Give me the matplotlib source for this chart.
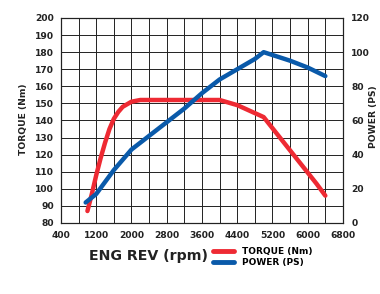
import matplotlib
matplotlib.use("Agg")
import matplotlib.pyplot as plt
from matplotlib.lines import Line2D

# values
torque_rpm = [1000, 1100, 1200, 1300, 1400, 1500, 1600, 1700, 1800, 2000, 2200, 3000, 3600, 4000, 4400, 5000, 5400, 5800, 6200, 6400]
torque_nm = [87, 97, 108, 118, 127, 135, 141, 145, 148, 151, 152, 152, 152, 152, 149, 142, 129, 116, 103, 96]
power_rpm = [960, 1200, 1600, 2000, 2400, 2800, 3200, 3600, 4000, 4400, 4800, 5000, 5600, 6000, 6400]
power_ps = [12, 17, 31, 43, 51, 59, 67, 76, 84, 90, 96, 100, 95, 91, 86]

x_ticks = list(range(400, 6801, 800))
torque_ticks = list(range(80, 201, 10))
power_ticks = list(range(0, 121, 20))

RED = "#ee2a33"
BLUE = "#0a5aaa"
FONT = "DejaVu Sans"
INK = "#222222"

fig = plt.figure(figsize=(3.8, 2.94), dpi=100)
ax = fig.add_axes([0.1605, 0.2415, 0.742, 0.6973])
ax2 = ax.twinx()

ax.set_xlim(400, 6800)
ax.set_ylim(80, 200)
ax2.set_ylim(0, 120)

ax.set_xticks(x_ticks)
ax.set_xticks(range(400, 6801, 400), minor=True)
ax.set_yticks(torque_ticks)
ax2.set_yticks(power_ticks)
ax.grid(True, which="both", color=INK, lw=0.7)
ax.set_axisbelow(True)
ax.tick_params(which="both", length=0)
ax2.tick_params(length=0)
for a in (ax, ax2):
    for s in a.spines.values():
        s.set_color(INK)
        s.set_linewidth(0.8)

tick_kw = dict(fontsize=6.6, fontweight="bold", family=FONT, color=INK)
ax.set_xticklabels([str(v) for v in x_ticks], **tick_kw)
ax.set_yticklabels([str(v) for v in torque_ticks], **tick_kw)
ax2.set_yticklabels([str(v) for v in power_ticks], **tick_kw)
ax.tick_params(axis="x", pad=6)
ax.tick_params(axis="y", pad=5)
ax2.tick_params(axis="y", pad=6)

ax.plot(torque_rpm, torque_nm, color=RED, lw=3.2, solid_capstyle="round", solid_joinstyle="round", zorder=3)
ax2.plot(power_rpm, power_ps, color=BLUE, lw=3.2, solid_capstyle="round", solid_joinstyle="round", zorder=3)

lab_kw = dict(fontsize=6.6, fontweight="bold", family=FONT, color=INK, rotation=90, va="center")
fig.text(0.062, 0.595, "TORQUE (Nm)", ha="center", **lab_kw)
fig.text(0.996, 0.602, "POWER (PS)", ha="right", **lab_kw)

fig.text(0.235, 0.128, "ENG REV (rpm)", fontsize=10.2, fontweight="bold", family=FONT, color=INK, ha="left", va="center")

handles = [Line2D([], [], color=RED, lw=3.5, solid_capstyle="round"),
           Line2D([], [], color=BLUE, lw=3.5, solid_capstyle="round")]
fig.legend(handles, ["TORQUE (Nm)", "POWER (PS)"], loc="center left", bbox_to_anchor=(0.54, 0.125),
           frameon=False, handlelength=2.3, handletextpad=0.9, labelspacing=0.25,
           prop=dict(family=FONT, weight="bold", size=6.5))

fig.savefig("out.png", dpi=100, facecolor="white")
